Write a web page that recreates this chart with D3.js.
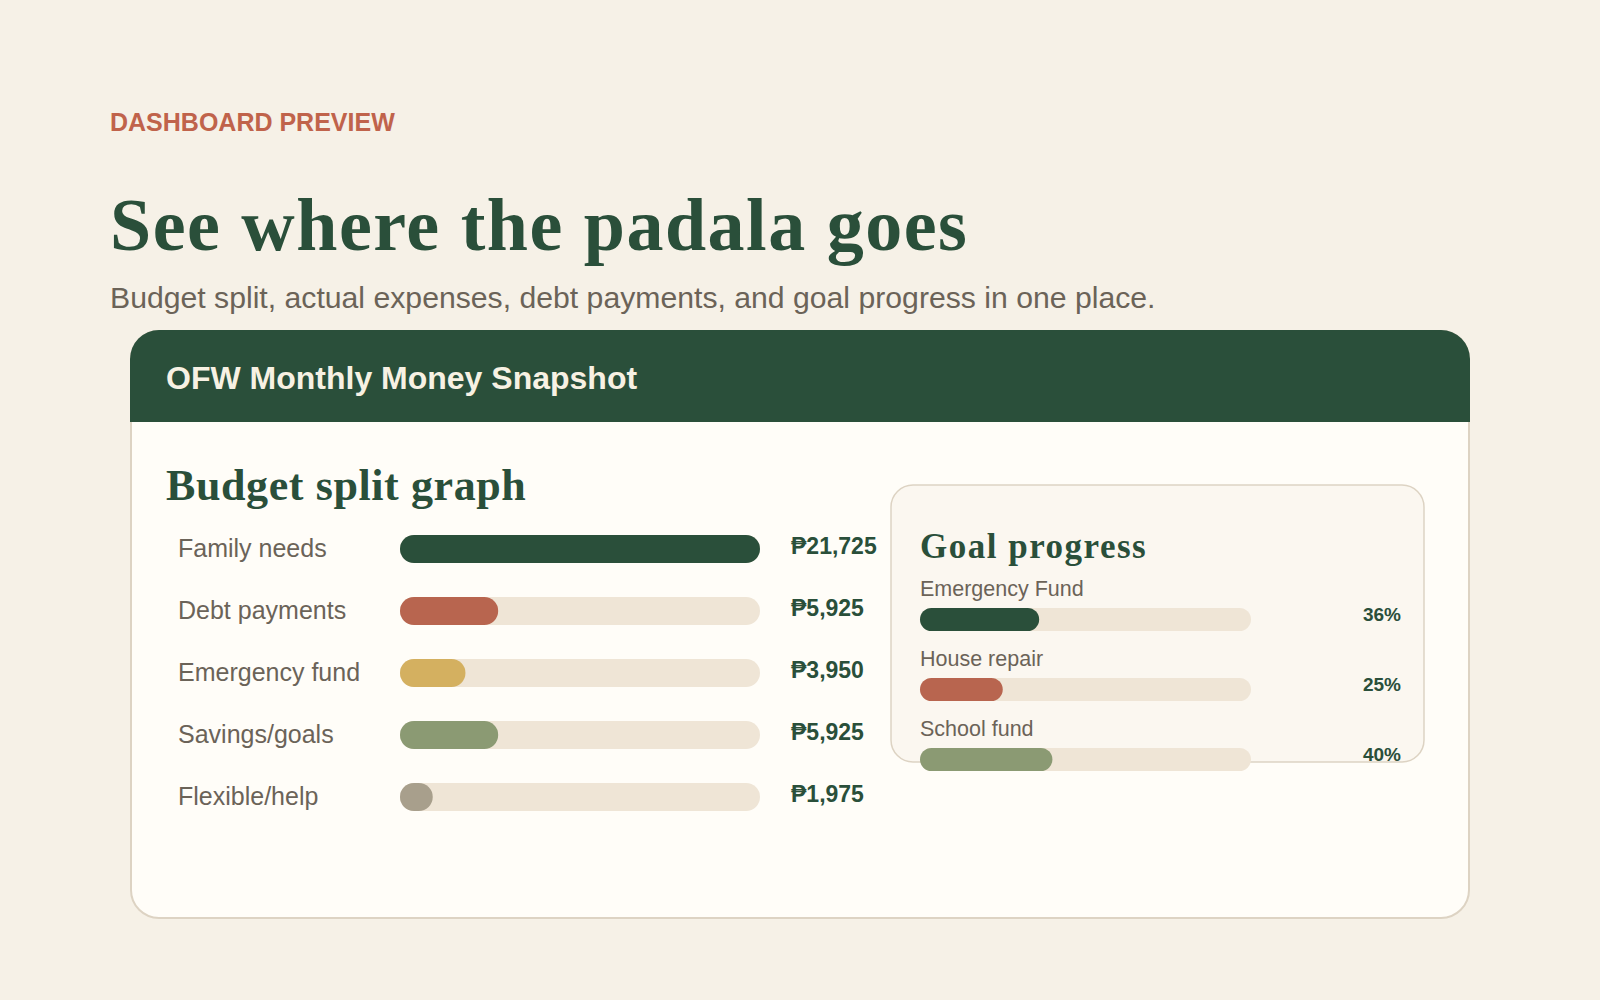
<!DOCTYPE html>
<html>
<head>
<meta charset="utf-8">
<title>OFW Monthly Money Snapshot</title>
<script src="https://cdn.jsdelivr.net/npm/d3@7"></script>
<style>
	html, body { margin: 0; padding: 0; background: #f6f1e7; }
	svg { display: block; }
</style>
</head>
<body>
<div id="chart"></div>
<script>
// budget split (pesos)
const budgetCategories = ['Family needs', 'Debt payments', 'Emergency fund', 'Savings/goals', 'Flexible/help'];
const budgetAmounts = [21725, 5925, 3950, 5925, 1975];

// goal progress (%)
const goalNames = ['Emergency Fund', 'House repair', 'School fund'];
const goalPercents = [36, 25, 40];

const SANS = '"Liberation Sans", Arial, sans-serif';
const SERIF = 'Georgia, "Liberation Serif", serif';
const GREEN = '#2a4f3a';
const TRACK = '#efe5d6';
const MUTED = '#6b6358';

const budgetColor = d3.scaleOrdinal()
	.domain(budgetCategories)
	.range(['#2a4f3a', '#b8654f', '#d4b060', '#8b9a73', '#a89f8c']);
const goalColor = d3.scaleOrdinal()
	.domain(goalNames)
	.range(['#2a4f3a', '#b8654f', '#8b9a73']);

const peso = (v) => '\u20b1' + d3.format(',')(v);

const svg = d3.select('#chart')
	.append('svg')
	.attr('width', 1600)
	.attr('height', 1000);

svg.append('rect')
	.attr('width', 1600)
	.attr('height', 1000)
	.attr('fill', '#f6f1e7');

// page heading
svg.append('text')
	.attr('x', 110).attr('y', 131)
	.attr('font-family', SANS).attr('font-weight', 700).attr('font-size', 25)
	.attr('fill', '#c0634b')
	.text('DASHBOARD PREVIEW');

svg.append('text')
	.attr('x', 110).attr('y', 250)
	.attr('font-family', SERIF).attr('font-weight', 700).attr('font-size', 74)
	.attr('letter-spacing', 1.5)
	.attr('fill', GREEN)
	.text('See where the padala goes');

svg.append('text')
	.attr('x', 110).attr('y', 308)
	.attr('font-family', SANS).attr('font-size', 30.2)
	.attr('fill', MUTED)
	.text('Budget split, actual expenses, debt payments, and goal progress in one place.');

// card
const card = { x: 130, y: 330, w: 1340, h: 589, r: 29, head: 92 };

svg.append('clipPath')
	.attr('id', 'card-clip')
	.append('rect')
	.attr('x', card.x).attr('y', card.y)
	.attr('width', card.w).attr('height', card.h)
	.attr('rx', card.r);

svg.append('rect')
	.attr('x', card.x + 1).attr('y', card.y + 1)
	.attr('width', card.w - 2).attr('height', card.h - 2)
	.attr('rx', card.r - 1)
	.attr('fill', '#fffdf8')
	.attr('stroke', '#ddd3c3')
	.attr('stroke-width', 2);

svg.append('rect')
	.attr('clip-path', 'url(#card-clip)')
	.attr('x', card.x).attr('y', card.y)
	.attr('width', card.w).attr('height', card.head)
	.attr('fill', GREEN);

svg.append('text')
	.attr('x', 166).attr('y', 389)
	.attr('font-family', SANS).attr('font-weight', 700).attr('font-size', 32)
	.attr('fill', '#f7f1e3')
	.text('OFW Monthly Money Snapshot');

// budget split graph
svg.append('text')
	.attr('x', 166).attr('y', 500)
	.attr('font-family', SERIF).attr('font-weight', 700).attr('font-size', 44)
	.attr('letter-spacing', 0.6)
	.attr('fill', GREEN)
	.text('Budget split graph');

const barH = 28;
const x = d3.scaleLinear()
	.domain([0, d3.max(budgetAmounts)])
	.range([400, 760]);
const y = d3.scalePoint()
	.domain(budgetCategories)
	.range([549, 797]);

const budget = budgetCategories.map((c, i) => ({ category: c, amount: budgetAmounts[i] }));

const rows = svg.append('g')
	.selectAll('g')
	.data(budget)
	.join('g')
	.attr('transform', (d) => `translate(0,${y(d.category)})`);

rows.append('text')
	.attr('x', 178).attr('dy', '0.33em')
	.attr('font-family', SANS).attr('font-size', 25)
	.attr('fill', MUTED)
	.text((d) => d.category);

rows.append('rect')
	.attr('x', x(0)).attr('y', -barH / 2)
	.attr('width', x.range()[1] - x(0)).attr('height', barH)
	.attr('rx', barH / 2)
	.attr('fill', TRACK);

rows.append('rect')
	.attr('x', x(0)).attr('y', -barH / 2)
	.attr('width', (d) => Math.max(barH, x(d.amount) - x(0))).attr('height', barH)
	.attr('rx', barH / 2)
	.attr('fill', (d) => budgetColor(d.category));

rows.append('text')
	.attr('x', 791).attr('dy', '0.22em')
	.attr('font-family', SANS).attr('font-weight', 700).attr('font-size', 23)
	.attr('fill', GREEN)
	.text((d) => peso(d.amount));

// goal progress panel
svg.append('rect')
	.attr('x', 891).attr('y', 485)
	.attr('width', 533).attr('height', 277)
	.attr('rx', 22)
	.attr('fill', '#fbf7f0')
	.attr('stroke', '#ddd3c3')
	.attr('stroke-width', 1.5);

svg.append('text')
	.attr('x', 920).attr('y', 558)
	.attr('font-family', SERIF).attr('font-weight', 700).attr('font-size', 35)
	.attr('letter-spacing', 1.5)
	.attr('fill', GREEN)
	.text('Goal progress');

const goalH = 23;
const gx = d3.scaleLinear().domain([0, 100]).range([920, 1251]);
const gy = d3.scalePoint().domain(goalNames).range([619.5, 759.5]);

const goals = goalNames.map((g, i) => ({ name: g, pct: goalPercents[i] }));

const goalRows = svg.append('g')
	.selectAll('g')
	.data(goals)
	.join('g')
	.attr('transform', (d) => `translate(0,${gy(d.name)})`);

goalRows.append('text')
	.attr('x', 920).attr('y', -23.5)
	.attr('font-family', SANS).attr('font-size', 21.5)
	.attr('fill', MUTED)
	.text((d) => d.name);

goalRows.append('rect')
	.attr('x', gx(0)).attr('y', -goalH / 2)
	.attr('width', gx(100) - gx(0)).attr('height', goalH)
	.attr('rx', goalH / 2)
	.attr('fill', TRACK);

goalRows.append('rect')
	.attr('x', gx(0)).attr('y', -goalH / 2)
	.attr('width', (d) => gx(d.pct) - gx(0)).attr('height', goalH)
	.attr('rx', goalH / 2)
	.attr('fill', (d) => goalColor(d.name));

goalRows.append('text')
	.attr('x', 1401).attr('y', 1.5)
	.attr('text-anchor', 'end')
	.attr('font-family', SANS).attr('font-weight', 700).attr('font-size', 19)
	.attr('fill', GREEN)
	.text((d) => d.pct + '%');
</script>
</body>
</html>
